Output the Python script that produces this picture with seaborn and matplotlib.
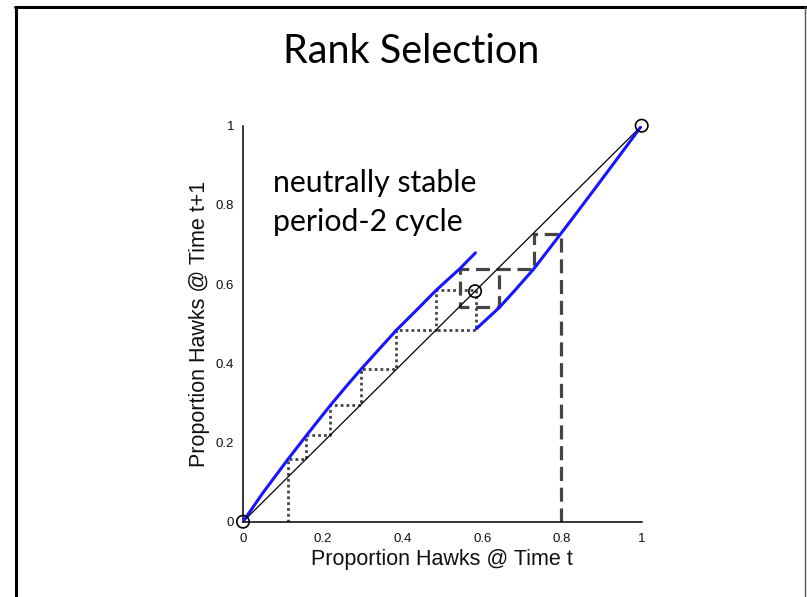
import matplotlib
matplotlib.use("Agg")
import matplotlib.pyplot as plt
from matplotlib.lines import Line2D
import seaborn as sns

# Map values: lower branch (x < fixed point) and upper branch (x > fixed point)
lower_x = [0.0, 0.05, 0.113, 0.16, 0.22, 0.26, 0.296, 0.34, 0.385, 0.43, 0.485, 0.545, 0.583]
lower_y = [0.0, 0.073, 0.158, 0.219, 0.295, 0.343, 0.385, 0.434, 0.484, 0.529, 0.585, 0.640, 0.679]
upper_x = [0.585, 0.643, 0.68, 0.729, 0.797, 0.84, 0.887, 0.95, 1.0]
upper_y = [0.487, 0.541, 0.582, 0.638, 0.727, 0.784, 0.847, 0.932, 1.0]

# Identity line
diag_x = [0.0, 1.0]
diag_y = [0.0, 1.0]

# Cobweb starting at x0 = 0.113 (dotted), settles on a period-2 cycle
dot_x = [0.113, 0.113, 0.158, 0.158, 0.219, 0.219, 0.295, 0.295, 0.385, 0.385,
         0.485, 0.485, 0.585, 0.585, 0.485]
dot_y = [0.0, 0.158, 0.158, 0.219, 0.219, 0.295, 0.295, 0.385, 0.385, 0.484,
         0.484, 0.585, 0.585, 0.484, 0.484]

# Cobweb starting at x0 = 0.797 (dashed), settles on another period-2 cycle
dash_x = [0.797, 0.797, 0.729, 0.729, 0.545, 0.545, 0.643, 0.643]
dash_y = [0.0, 0.727, 0.727, 0.638, 0.638, 0.541, 0.541, 0.638]

# Fixed points
fix_x = [0.0, 0.582, 1.0]
fix_y = [0.0, 0.582, 1.0]

x_ticks = [0, 0.2, 0.4, 0.6, 0.8, 1]
x_tick_labels = ["0", "0.2", "0.4", "0.6", "0.8", "1"]
y_ticks = [0, 0.2, 0.4, 0.6, 0.8, 1]
y_tick_labels = ["0", "0.2", "0.4", "0.6", "0.8", "1"]

title_text = "Rank Selection"
note_lines = ["neutrally stable", "period-2 cycle"]
x_label = "Proportion Hawks @ Time t"
y_label = "Proportion Hawks @ Time t+1"

sns.set_style("white")
plt.rcParams["font.family"] = ["Liberation Sans", "DejaVu Sans"]

W, H = 807, 597
fig = plt.figure(figsize=(W / 100, H / 100), dpi=100)
ax = fig.add_axes([243 / W, 1 - 521.7 / H, 398.7 / W, 396 / H])

gray = "#454545"
sns.lineplot(x=dot_x, y=dot_y, ax=ax, sort=False, estimator=None, color=gray,
             linewidth=2.0, linestyle=(0, (1.0, 1.1)), zorder=2)
sns.lineplot(x=dash_x, y=dash_y, ax=ax, sort=False, estimator=None, color=gray,
             linewidth=2.3, linestyle=(0, (4.4, 2.1)), zorder=2)
sns.lineplot(x=diag_x, y=diag_y, ax=ax, sort=False, estimator=None, color="black",
             linewidth=0.9, zorder=3)
sns.lineplot(x=lower_x, y=lower_y, ax=ax, sort=False, estimator=None, color="#1515ff",
             linewidth=2.2, zorder=4)
sns.lineplot(x=upper_x, y=upper_y, ax=ax, sort=False, estimator=None, color="#1515ff",
             linewidth=2.2, zorder=4)
sns.scatterplot(x=fix_x, y=fix_y, ax=ax, marker="o", s=80, facecolor="none",
                edgecolor="black", linewidth=1.2, zorder=5, clip_on=False)

ax.set_xlim(0, 1)
ax.set_ylim(0, 1)
ax.set_xticks(x_ticks)
ax.set_xticklabels(x_tick_labels)
ax.set_yticks(y_ticks)
ax.set_yticklabels(y_tick_labels)
ax.tick_params(axis="both", direction="in", length=4, width=1, color="black",
               labelsize=9.5, labelcolor="#111111")
ax.tick_params(axis="x", pad=8)
ax.tick_params(axis="y", pad=6.5)
for side in ("top", "right"):
    ax.spines[side].set_visible(False)
for side in ("left", "bottom"):
    ax.spines[side].set_color("black")
    ax.spines[side].set_linewidth(1.1)

ax.set_xlabel(x_label, fontsize=15.5, labelpad=3, color="#111111")
ax.set_ylabel(y_label, fontsize=15.5, labelpad=4, color="#111111")

# Annotation in data coordinates
note_font = ["Lato", "DejaVu Sans"]
ax.text(0.076, 0.833, note_lines[0], fontsize=21.8, family=note_font,
        va="baseline", ha="left", color="black")
ax.text(0.076, 0.735, note_lines[1], fontsize=21.8, family=note_font,
        va="baseline", ha="left", color="black")

fig.text(411 / W, 1 - 63 / H, title_text, fontsize=28.5, family=note_font,
         ha="center", va="baseline", color="black")

# Slide frame
fig.add_artist(Line2D([15 / W, 806 / W], [1 - 7 / H, 1 - 7 / H], transform=fig.transFigure,
                      color="black", linewidth=2.2))
fig.add_artist(Line2D([16 / W, 16 / W], [1 - 7 / H, 0], transform=fig.transFigure,
                      color="black", linewidth=2.2))
fig.add_artist(Line2D([805 / W, 805 / W], [1 - 7 / H, 0], transform=fig.transFigure,
                      color="#555555", linewidth=1.0))

fig.savefig("out.png", dpi=100)
